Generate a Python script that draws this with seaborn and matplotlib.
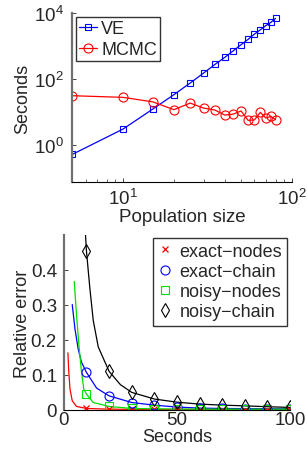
import matplotlib
matplotlib.use("Agg")
import matplotlib.pyplot as plt
import seaborn as sns
import numpy as np

# --- top panel: run time vs population size ---
pop_size = [5, 10, 15, 20, 25, 30, 35, 40, 45, 50, 55, 60, 65, 70, 75, 80]
ve_sec = [0.52, 3.05, 12.3, 33.5, 76, 152, 277, 452, 720, 1100, 1590, 2300, 3100, 4150, 5200, 6900]
mcmc_sec = [31.3, 27.9, 20.4, 11.8, 18.7, 13.2, 11.5, 8.1, 8.7, 10.8, 5.6, 5.8, 9.8, 6.6, 7.4, 5.9]

# --- bottom panel: relative error vs seconds (curves) ---
en_t = [1.8, 2.1, 2.7, 3.7, 5.6, 10, 20, 30, 40, 50, 60, 70, 80, 90, 100]
en_v = [0.163, 0.117, 0.06, 0.026, 0.0098, 0.004, 0.002, 0.0015, 0.0012, 0.001, 0.001, 0.001, 0.001, 0.001, 0.001]
ec_t = [3.7, 4.9, 6.3, 7.8, 10, 14.5, 20, 30, 40, 50, 60, 70, 80, 90, 100]
ec_v = [0.301, 0.232, 0.175, 0.136, 0.107, 0.062, 0.040, 0.021, 0.0135, 0.008, 0.005, 0.004, 0.0035, 0.003, 0.003]
nn_t = [4.6, 5.6, 6.8, 7.8, 8.8, 10, 13, 20, 30, 40, 50, 60, 70, 80, 90, 100]
nn_v = [0.367, 0.27, 0.175, 0.108, 0.06, 0.045, 0.021, 0.0098, 0.004, 0.003, 0.0025, 0.002, 0.002, 0.002, 0.002, 0.002]
nc_t = [9, 10, 11.5, 13, 15.2, 20, 25, 30, 40, 50, 60, 70, 80, 90, 100]
nc_v = [0.56, 0.453, 0.347, 0.255, 0.18, 0.11, 0.072, 0.05, 0.031, 0.022, 0.0165, 0.0135, 0.0115, 0.009, 0.007]

mark_t = [10, 20, 30, 40, 50, 60, 70, 80, 90, 100]
en_m = [0.004, 0.002, 0.0015, 0.0012, 0.001, 0.001, 0.001, 0.001, 0.001, 0.001]
ec_m = [0.107, 0.040, 0.021, 0.0135, 0.008, 0.005, 0.004, 0.0035, 0.003, 0.003]
nn_m = [0.045, 0.0098, 0.004, 0.003, 0.0025, 0.002, 0.002, 0.002, 0.002, 0.002]
nc_m = [0.453, 0.11, 0.05, 0.031, 0.022, 0.0165, 0.0135, 0.0115, 0.009, 0.007]

sns.set_style("ticks")
plt.rcParams['font.family'] = ['Liberation Sans', 'DejaVu Sans']
plt.rcParams['mathtext.fontset'] = 'custom'
plt.rcParams['mathtext.rm'] = 'Liberation Sans'
plt.rcParams['font.size'] = 13
fs = 13
green = '#00e000'

fig = plt.figure(figsize=(3.07, 4.52), dpi=100)
ax1 = fig.add_axes([0.235, 0.595, 0.716, 0.374])
ax2 = fig.add_axes([0.208, 0.091, 0.737, 0.387])

# top
sns.lineplot(x=pop_size, y=ve_sec, ax=ax1, color='blue', marker='s', markersize=5,
             mfc='none', mec='blue', mew=0.8, lw=0.9, label='VE')
sns.lineplot(x=pop_size, y=mcmc_sec, ax=ax1, color='red', marker='o', markersize=6.5,
             mfc='none', mec='red', mew=0.8, lw=0.9, label='MCMC')
ax1.set_xscale('log')
ax1.set_yscale('log')
ax1.set_xlim(5, 100)
ax1.set_ylim(10 ** -1.12, 1e4)
ax1.set_yticks([1e0, 1e2, 1e4])
ax1.yaxis.set_minor_locator(matplotlib.ticker.NullLocator())
ax1.set_xticks([10, 100])
ax1.set_xlabel('Population size', fontsize=13.5, labelpad=0)
ax1.set_ylabel('Seconds', fontsize=fs, labelpad=2)
leg1 = ax1.legend(loc='upper left', fontsize=fs, frameon=True, fancybox=False,
                  handlelength=1.0, handletextpad=0.2, borderpad=0.2, labelspacing=0.2,
                  borderaxespad=0.2)
leg1.get_frame().set_edgecolor('black')
leg1.get_frame().set_linewidth(1.0)

# bottom
sns.lineplot(x=en_t, y=en_v, ax=ax2, color='red', lw=0.9)
sns.lineplot(x=ec_t, y=ec_v, ax=ax2, color='blue', lw=0.9)
sns.lineplot(x=nn_t, y=nn_v, ax=ax2, color=green, lw=0.9)
sns.lineplot(x=nc_t, y=nc_v, ax=ax2, color='black', lw=0.9)
n0 = len(ax2.lines)
sns.lineplot(x=mark_t, y=en_m, ax=ax2, color='red', marker='x', linestyle='none',
             markersize=4, mec='red', mew=0.9, label='exact\u2212nodes')
sns.lineplot(x=mark_t, y=ec_m, ax=ax2, color='blue', marker='o', linestyle='none',
             markersize=6.5, mfc='none', mec='blue', mew=0.8, label='exact\u2212chain')
sns.lineplot(x=mark_t, y=nn_m, ax=ax2, color=green, marker='s', linestyle='none',
             markersize=5.5, mfc='none', mec=green, mew=0.8, label='noisy\u2212nodes')
sns.lineplot(x=mark_t, y=nc_m, ax=ax2, color='black', marker='d', linestyle='none',
             markersize=7, mfc='none', mec='black', mew=0.8, label='noisy\u2212chain')
ax2.set_xlim(0, 100)
ax2.set_ylim(0, 0.5)
ax2.set_xticks([0, 50, 100])
ax2.set_yticks([0, 0.1, 0.2, 0.3, 0.4])
ax2.set_yticklabels(['0', '0.1', '0.2', '0.3', '0.4'])
ax2.set_xlabel('Seconds', fontsize=fs, labelpad=0)
ax2.set_ylabel('Relative error', fontsize=fs, labelpad=0)
handles = ax2.lines[n0:]
leg2 = ax2.legend(handles=handles, labels=[h.get_label() for h in handles],
                  loc='upper right', fontsize=fs, frameon=True, fancybox=False,
                  handlelength=0.8, handletextpad=0.4, borderpad=0.28, labelspacing=0.18,
                  borderaxespad=0.15)
leg2.get_frame().set_edgecolor('black')
leg2.get_frame().set_linewidth(1.0)

for ax in (ax1, ax2):
    sns.despine(ax=ax)
    ax.spines['left'].set_color('#707070')
    ax.spines['left'].set_linewidth(1.6)
    ax.spines['bottom'].set_color('black')
    ax.spines['bottom'].set_linewidth(0.8)
    ax.tick_params(which='both', direction='in', labelsize=13.5, pad=6)
    ax.tick_params(which='major', length=3, width=0.6)
    ax.tick_params(which='minor', length=2, width=0.5)
ax1.tick_params(axis='x', pad=4)
ax2.tick_params(axis='x', pad=1)
ax2.tick_params(axis='y', pad=5)

fig.savefig('out.png', dpi=100)
